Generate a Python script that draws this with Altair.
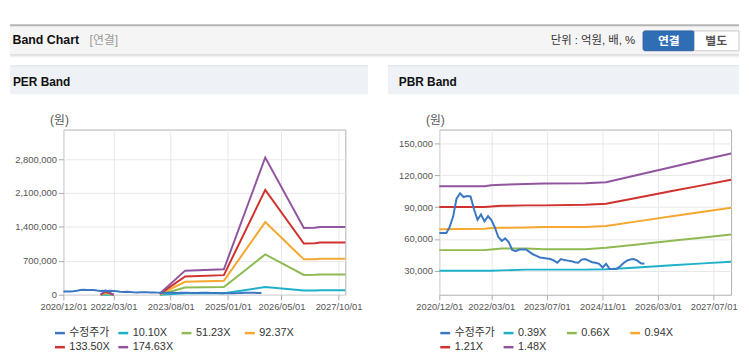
import altair as alt
import pandas as pd

FONT = "Liberation Sans, Noto Sans CJK KR, sans-serif"

# ---------------- data ----------------
per_names = ["수정주가", "10.10X", "51.23X", "92.37X", "133.50X", "174.63X"]
pbr_names = ["수정주가", "0.39X", "0.66X", "0.94X", "1.21X", "1.48X"]
line_colors = ["#3a78c3", "#1fb1c9", "#8fba52", "#f6a730", "#d0312d", "#9155a0"]

price_dates = [
    "2020-12-01", "2021-01-01", "2021-02-01", "2021-03-01", "2021-04-01", "2021-05-01",
    "2021-06-01", "2021-07-01", "2021-08-01", "2021-09-01", "2021-10-01", "2021-11-01",
    "2021-12-01", "2022-01-01", "2022-02-01", "2022-03-01", "2022-04-01", "2022-05-01",
    "2022-06-01", "2022-07-01", "2022-08-01", "2022-09-01", "2022-10-01", "2022-11-01",
    "2022-12-01", "2023-01-01", "2023-02-01", "2023-03-01", "2023-04-01", "2023-05-01",
    "2023-06-01", "2023-07-01", "2023-08-01", "2023-09-01", "2023-10-01", "2023-11-01",
    "2023-12-01", "2024-01-01", "2024-02-01", "2024-03-01", "2024-04-01", "2024-05-01",
    "2024-06-01", "2024-07-01", "2024-08-01", "2024-09-01", "2024-10-01", "2024-11-01",
    "2024-12-01", "2025-01-01", "2025-02-01", "2025-03-01", "2025-04-01", "2025-05-01",
    "2025-06-01", "2025-07-01", "2025-08-01", "2025-09-01", "2025-10-01", "2025-11-01",
]
price_values = [
    65500, 65500, 65500, 71000, 81000, 98000,
    103000, 99500, 100500, 100000, 88000, 78000,
    83000, 76500, 81500, 78000, 71000, 62000,
    58000, 60500, 57000, 49500, 48500, 50000,
    50000, 50000, 47500, 45500, 44000, 42500,
    42000, 41500, 41000, 39500, 37500, 41000,
    40000, 39500, 39000, 38000, 37500, 40500,
    41000, 39500, 38000, 37500, 36500, 33000,
    36500, 31500, 31500, 31500, 34000, 37000,
    39500, 40500, 41000, 39500, 37000, 36500,
]

# PER band (원)
per_blip_dates = ["2021-11-04", "2021-12-19", "2022-03-01"]
per_blip = {
    "10.10X": [0, 5000, 0],
    "51.23X": [0, 26000, 0],
    "92.37X": [0, 47000, 0],
    "133.50X": [0, 68000, 0],
    "174.63X": [0, 88000, 0],
}
per_main_dates = ["2023-04-25", "2023-12-10", "2024-11-25", "2025-12-05",
                  "2026-11-20", "2027-03-01", "2027-04-15", "2027-12-01"]
per_main = {
    "10.10X": [1500, 30000, 32000, 158000, 88000, 88000, 93000, 93000],
    "51.23X": [7000, 150000, 158000, 833000, 410000, 411000, 417000, 417000],
    "92.37X": [13000, 268000, 287000, 1500000, 731000, 733000, 744000, 744000],
    "133.50X": [19000, 378000, 405000, 2165000, 1059000, 1062000, 1079000, 1079000],
    "174.63X": [25000, 498000, 526000, 2833000, 1379000, 1383000, 1400000, 1400000],
}

# PBR band (원)
pbr_dates = ["2020-12-01", "2022-01-01", "2022-03-01", "2022-06-01", "2023-01-01", "2023-06-01",
             "2024-06-01", "2024-12-01", "2025-09-01", "2026-07-01", "2027-04-01", "2027-12-01"]
pbr_bands = {
    "0.39X": [30000, 30000, 30000, 30300, 31000, 31000, 31000, 31300, 33100, 35100, 36900, 38400],
    "0.66X": [49400, 49400, 50000, 50900, 50900, 50300, 50300, 51600, 54700, 58200, 61300, 64100],
    "0.94X": [69100, 69500, 70200, 70400, 70800, 71300, 71300, 72200, 76500, 81300, 85600, 89400],
    "1.21X": [90000, 90000, 90500, 91200, 91600, 91600, 92200, 93200, 98800, 105100, 110700, 115700],
    "1.48X": [109700, 109700, 110500, 111000, 111800, 112200, 112500, 113400, 120200, 127800, 134600, 140600],
}

per_x_ticks = [(2020, 12), (2022, 3), (2023, 8), (2025, 1), (2026, 5), (2027, 10)]
pbr_x_ticks = [(2020, 12), (2022, 3), (2023, 7), (2024, 11), (2026, 3), (2027, 7)]
per_y_ticks = [0, 700000, 1400000, 2100000, 2800000]
pbr_y_ticks = [30000, 60000, 90000, 120000, 150000]
per_y_domain = [0, 3410000]
pbr_y_domain = [7300, 163100]


# ---------------- helpers ----------------
def band_rows(dates, bands, seg):
    rows = []
    for name, vals in bands.items():
        for d, v in zip(dates, vals):
            rows.append({"date": d, "value": v, "series": name, "seg": seg})
    return rows


per_band_df = pd.DataFrame(band_rows(per_blip_dates, per_blip, "a") + band_rows(per_main_dates, per_main, "b"))
pbr_band_df = pd.DataFrame(band_rows(pbr_dates, pbr_bands, "a"))
price_df = pd.DataFrame({"date": price_dates, "value": price_values, "series": "수정주가", "seg": "p"})

one = pd.DataFrame({"k": [0]})


def dt(y, m):
    return alt.DateTime(year=y, month=m, date=1, utc=True)


def rect(x, x2, y, y2, fill, stroke=None, radius=None):
    kw = {"fill": fill}
    if stroke:
        kw["stroke"] = stroke
        kw["strokeWidth"] = 1
    if radius:
        kw["cornerRadius"] = radius
    return alt.Chart(one).mark_rect(**kw).encode(
        x=alt.value(x), x2=alt.value(x2), y=alt.value(y), y2=alt.value(y2))


def rule(x, x2, y, color, w):
    return alt.Chart(one).mark_rule(color=color, strokeWidth=w).encode(
        x=alt.value(x), x2=alt.value(x2), y=alt.value(y))


def text(x, y, s, size, color, weight="normal", align="left"):
    return alt.Chart(one).mark_text(align=align, baseline="middle", fontSize=size,
                                    fontWeight=weight, color=color, font=FONT).encode(
        x=alt.value(x), y=alt.value(y), text=alt.value(s))


def panel(band_df, names, width, xticks, ydomain, yticks, lx, ly, decos):
    xs = alt.Scale(type="utc", domain=[dt(2020, 12), dt(2027, 12)])
    xa = alt.Axis(values=[dt(y, m) for y, m in xticks],
                  labelExpr="utcFormat(datum.value, '%Y/%m/%d')",
                  title=None, labelFlush=False, labelOverlap=False, grid=True)
    ys = alt.Scale(domain=ydomain, nice=False, zero=False)
    ya = alt.Axis(values=yticks, format=",d", title="(원)", titleAngle=0, titleAlign="center",
                  titleBaseline="middle", titleX=-4.5, titleY=-10.5, labelFlush=False, grid=True)
    leg = alt.Legend(orient="none", legendX=lx, legendY=ly, direction="horizontal", columns=4,
                     gridAlign="all", columnPadding=3, rowPadding=2.5, symbolType="stroke",
                     symbolSize=100, symbolStrokeWidth=2.5, labelFont=FONT, labelFontSize=11,
                     labelColor="#333333", labelOffset=3, title=None, padding=0)
    color = alt.Color("series:N", scale=alt.Scale(domain=names, range=line_colors),
                      sort=names, legend=leg)
    bands = alt.Chart(band_df).mark_line(strokeWidth=2).encode(
        x=alt.X("date:T", scale=xs, axis=xa), y=alt.Y("value:Q", scale=ys, axis=ya),
        color=color, detail="seg:N")
    price = alt.Chart(price_df).mark_line(strokeWidth=2).encode(
        x=alt.X("date:T", scale=xs, axis=xa), y=alt.Y("value:Q", scale=ys, axis=ya),
        color=color)
    return alt.layer(*decos, bands, price).properties(width=width, height=167)


# PER panel decorations (coordinates relative to the plot origin)
per_decos = [
    rect(-54, 683, -120, -106, "#ffffff"),
    rect(-54, 683, -105, -76, "#f5f5f5"),
    rule(-54, 683, -105.5, "#b5b5b5", 2),
    rule(-54, 683, -75.5, "#cfcfcf", 1),
    rule(-54, 683, -74.5, "#e2e2e2", 1),
    rule(-54, 683, -73.5, "#f0f0f0", 1),
    text(-51.5, -90, "Band Chart", 12.5, "#111111", "bold"),
    text(26.5, -90, "[연결]", 12, "#9a9a9a"),
    rect(-54, 308, -64.5, -35.7, "#eef2f7"),
    rule(-54, 308, -64.5, "#dde1e6", 1),
    text(-51, -48, "PER Band", 12, "#111111", "bold"),
]
pbr_decos = [
    rect(-52, 303, -64.5, -35.7, "#eef2f7"),
    rule(-52, 303, -64.5, "#dde1e6", 1),
    text(-41, -48, "PBR Band", 12, "#111111", "bold"),
    text(198, -90, "단위 : 억원, 배, %", 11.5, "#333333", "normal", "right"),
    rect(206, 258, -99.7, -79.7, "#2f6eb4", "#2a5f9e", 2),
    text(232, -89.7, "연결", 12, "#ffffff", "bold", "center"),
    rect(258, 303, -99.7, -79.7, "#ffffff", "#c9c9c9"),
    text(280, -89.7, "별도", 12, "#555555", "bold", "center"),
]

per = panel(per_band_df, per_names, 285, per_x_ticks, per_y_domain, per_y_ticks, -10, 199, per_decos)
pbr = panel(pbr_band_df, pbr_names, 295, pbr_x_ticks, pbr_y_domain, pbr_y_ticks, -0.5, 199, pbr_decos)

chart = alt.hconcat(per, pbr, spacing=95, bounds="flush").resolve_scale(
    color="independent", x="independent", y="independent"
).properties(padding=0).configure_view(
    stroke="#b0b0b0", strokeWidth=1
).configure_axis(
    gridColor="#e8e8e8", tickColor="#aaaaaa", domain=False, labelColor="#555555",
    labelFont=FONT, labelFontSize=9.5, tickSize=5, labelPadding=2,
    titleFont=FONT, titleFontWeight="normal", titleFontSize=12, titleColor="#555555"
)

chart.save("out.html", embed_options={"renderer": "svg", "actions": False})
